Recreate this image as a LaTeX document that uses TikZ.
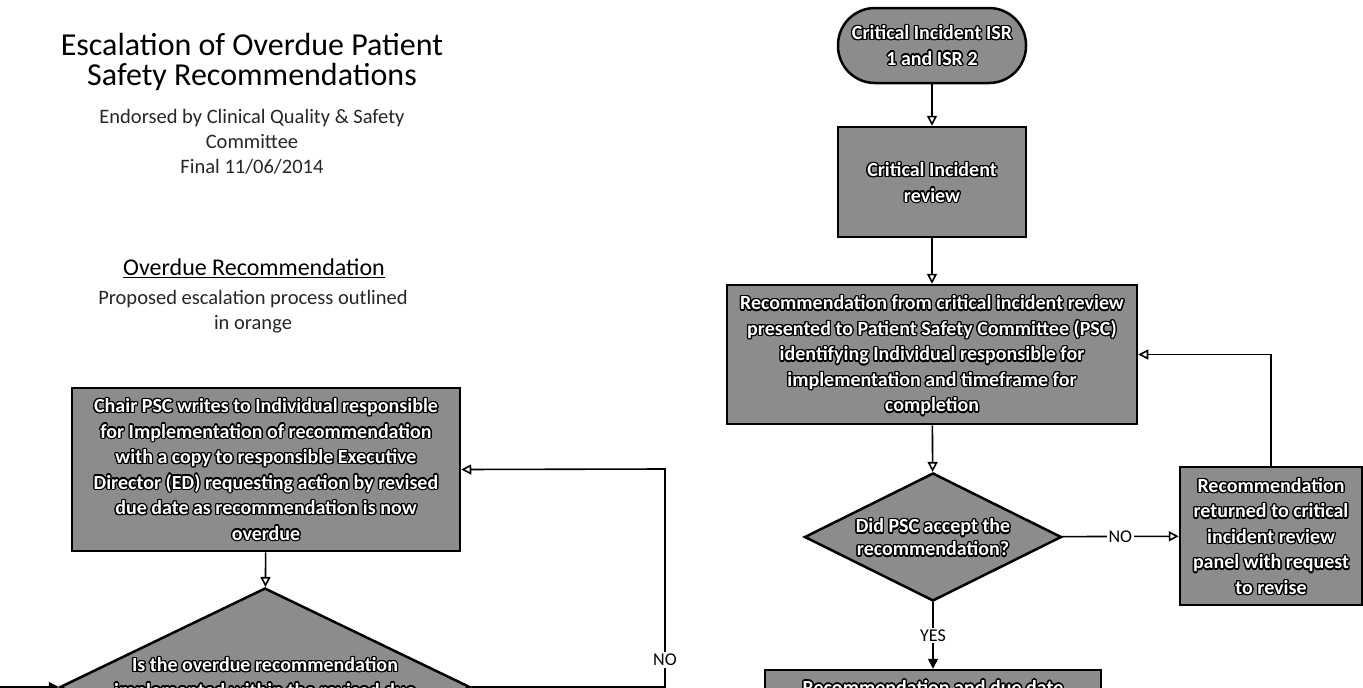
\documentclass[tikz,border=0pt]{standalone}
\usepackage{fontspec}
\setmainfont{Carlito}
\usepackage{contour}
\contourlength{1.3pt}
\usetikzlibrary{shapes.geometric,arrows.meta}
\definecolor{boxgray}{RGB}{140,140,140}
\newcommand\cl[1]{\contour{black}{#1}}
\begin{document}
\begin{tikzpicture}[x=1pt,y=-1pt,
  box/.style={draw=black,line width=2.5pt,fill=boxgray,inner sep=0pt},
  dia/.style={diamond,draw=black,line width=2.5pt,fill=boxgray,inner sep=0pt},
  btext/.style={text=white,font=\bfseries\fontsize{20}{25.5}\selectfont,align=center,inner sep=0pt},
  conn/.style={line width=1.6pt,-{Triangle[open,length=10pt,width=10pt,line width=1.6pt]}},
  connf/.style={line width=1.6pt,-{Triangle[length=10pt,width=10pt]}},
  lab/.style={fill=white,font=\fontsize{18}{18}\selectfont,inner sep=2pt},
  title/.style={font=\fontsize{32}{30}\selectfont,align=center,inner sep=0pt},
  sub/.style={text=black!85,font=\fontsize{20.5}{25}\selectfont,align=center,inner sep=0pt},
  head/.style={font=\fontsize{24}{26}\selectfont,inner sep=0pt}]
\useasboundingbox (0,0) rectangle (1363,688);
\clip (0,0) rectangle (1363,688);
% titles
\node[title] (t1) at (252,62) {Escalation of Overdue Patient\\Safety Recommendations};
\node[sub] (s1) at (252,142) {Endorsed by Clinical Quality \& Safety\\Committee\\Final 11/06/2014};
\node[head] (h1) at (254,268) {\underline{Overdue Recommendation}};
\node[sub] (p1) at (253,311.5) {Proposed escalation process outlined\\in orange};
% left column
\node[box,minimum width=388,minimum height=163] (chair) at (266,469.5) {};
\node[btext] (chairt) at (266,470) {\cl{Chair PSC writes to Individual responsible}\\ \cl{for Implementation of recommendation}\\ \cl{with a copy to responsible Executive}\\ \cl{Director (ED) requesting action by revised}\\ \cl{due date as recommendation is now}\\ \cl{overdue}};
\node[dia,minimum width=410,minimum height=198] (odq) at (265,687) {};
\node[btext] (odqt) at (265,679.5) {\cl{Is the overdue recommendation}\\ \cl{implemented within the revised due}};
\coordinate (c1) at (665,687);
\coordinate (c2) at (665,469);
\coordinate (lin) at (0,687);
\draw[conn] (chair) -- (odq);
\draw[conn] (odq.east) -- (c1) -- node[lab,pos=0.124]{NO} (c2) -- (chair.east);
\draw[connf] (lin) -- (odq.west);
% right column
\node[box,rounded corners=37,minimum width=188,minimum height=75] (term) at (932,45.5) {};
\node[btext] (termt) at (932,46) {\cl{Critical Incident ISR}\\ \cl{1 and ISR 2}};
\node[box,minimum width=188,minimum height=110] (crit) at (932,182) {};
\node[btext] (critt) at (932,183) {\cl{Critical Incident}\\ \cl{review}};
\node[box,minimum width=410,minimum height=139] (rec) at (932,354.5) {};
\node[btext] (rect) at (932,356) {\cl{Recommendation from critical incident review}\\ \cl{presented to Patient Safety Committee (PSC)}\\ \cl{identifying Individual responsible for}\\ \cl{implementation and timeframe for}\\ \cl{completion}};
\node[dia,minimum width=257,minimum height=128] (psc) at (933,537) {};
\node[btext,font=\bfseries\fontsize{20}{23}\selectfont] (psct) at (933,538) {\cl{Did PSC accept the}\\ \cl{recommendation?}};
\node[box,minimum width=182,minimum height=138] (ret) at (1271,536) {};
\node[btext] (rett) at (1271,537) {\cl{Recommendation}\\ \cl{returned to critical}\\ \cl{incident review}\\ \cl{panel with request}\\ \cl{to revise}};
\node[box,minimum width=336,minimum height=100] (next) at (933,720) {};
\node[btext,anchor=north] (nextt) at (933,680) {\cl{Recommendation and due date}};
\draw[conn] (term) -- (crit);
\draw[conn] (crit) -- (rec);
\draw[conn] (rec) -- (psc);
\draw[conn] (psc) -- node[lab]{NO} (ret);
\draw[conn] (ret.north) |- (rec.east);
\draw[connf] (psc) -- node[lab]{YES} (next);
\end{tikzpicture}
\end{document}
